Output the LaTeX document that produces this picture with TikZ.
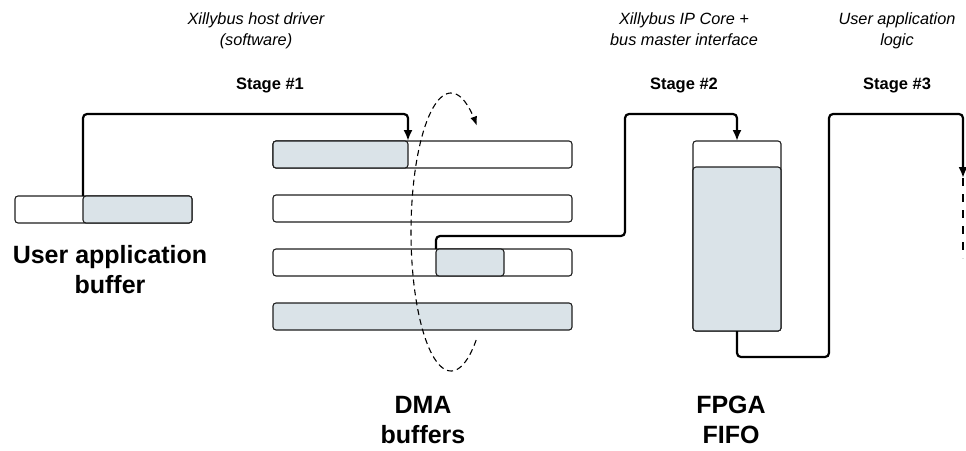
\documentclass[tikz,border=0pt]{standalone}
\usepackage{fontspec}
\setmainfont{Liberation Sans}
\usetikzlibrary{arrows.meta}
\definecolor{bufl}{HTML}{DAE3E8}
\definecolor{edgec}{HTML}{1E1E1E}
\begin{document}
\begin{tikzpicture}[x=1pt,y=-1pt,
  bufbox/.style={draw=edgec, line width=1.1pt, rounded corners=3pt, fill=white,
    inner sep=0pt, outer sep=0pt, minimum height=27pt},
  filledbox/.style={bufbox, fill=bufl},
  conn/.style={draw=black, line width=2.2pt, rounded corners=4pt},
  connarrow/.style={conn, -{Latex[length=11pt,width=9pt]}},
  taildash/.style={draw=black, line width=2.2pt, dash pattern=on 8pt off 8pt},
  cycle/.style={draw=black, line width=1.1pt, dash pattern=on 6pt off 4pt,
    -{Latex[length=9pt,width=7pt]}},
  biglabel/.style={anchor=base, align=center, font=\fontsize{25}{30}\selectfont\bfseries},
  stagelabel/.style={anchor=base, font=\fontsize{16.5}{20}\selectfont\bfseries},
  rolelabel/.style={anchor=base, align=center, font=\fontsize{16.3}{21}\selectfont\itshape}]
\useasboundingbox (0,0) rectangle (966,450);

% user application buffer
\node[bufbox, minimum width=177pt] (ub) at (103.5,209.5) {};
\node[filledbox, minimum width=109pt] (ubfill) at (137.5,209.5) {};

% DMA buffers
\node[bufbox, minimum width=299pt] (dma1) at (422.5,154.5) {};
\node[filledbox, minimum width=135pt] (dma1fill) at (340.5,154.5) {};
\node[bufbox, minimum width=299pt] (dma2) at (422.5,208.5) {};
\node[bufbox, minimum width=299pt] (dma3) at (422.5,262.5) {};
\node[filledbox, minimum width=68pt] (dma3fill) at (470,262.5) {};
\node[filledbox, minimum width=299pt] (dma4) at (422.5,316.5) {};

% FPGA FIFO
\node[bufbox, minimum width=88pt, minimum height=190pt] (fifo) at (737,236) {};
\node[filledbox, minimum width=88pt, minimum height=164pt] (fifofill) at (737,249) {};

% helper coordinates
\coordinate (top) at (0,114);
\coordinate (k2) at (625,236);
\coordinate (k3) at (829,357);
\coordinate (endsolid) at (963,178);
\coordinate (enddash) at (963,258);

% connectors
\draw[connarrow] (ubfill.north west) -- (ubfill.north west |- top) -| (dma1fill.north east);
\draw[connarrow] (dma3fill.north west) |- (k2) |- (fifo.north |- top) -- (fifo.north);
\draw[connarrow] (fifo.south) |- (k3) |- (endsolid |- top) -- (endsolid);
\draw[taildash] (endsolid) -- (enddash);

% circular DMA buffer use
\draw[cycle] plot[domain=51:310, samples=90, smooth] ({451+40*cos(\x)},{232+139*sin(\x)});

% labels (anchor base = baseline of the last line)
\node[biglabel] (ublabel) at (110,293) {User application\\buffer};
\node[biglabel] (dmalabel) at (423,443) {DMA\\buffers};
\node[biglabel] (fifolabel) at (731,443) {FPGA\\FIFO};

\node[stagelabel] (s1) at (270,89) {Stage \#1};
\node[stagelabel] (s2) at (684,89) {Stage \#2};
\node[stagelabel] (s3) at (897,89) {Stage \#3};

\node[rolelabel] (r1) at (256,45) {Xillybus host driver\\(software)};
\node[rolelabel] (r2) at (684,45) {Xillybus IP Core +\\bus master interface};
\node[rolelabel] (r3) at (897,45) {User application\\logic};
\end{tikzpicture}
\end{document}
